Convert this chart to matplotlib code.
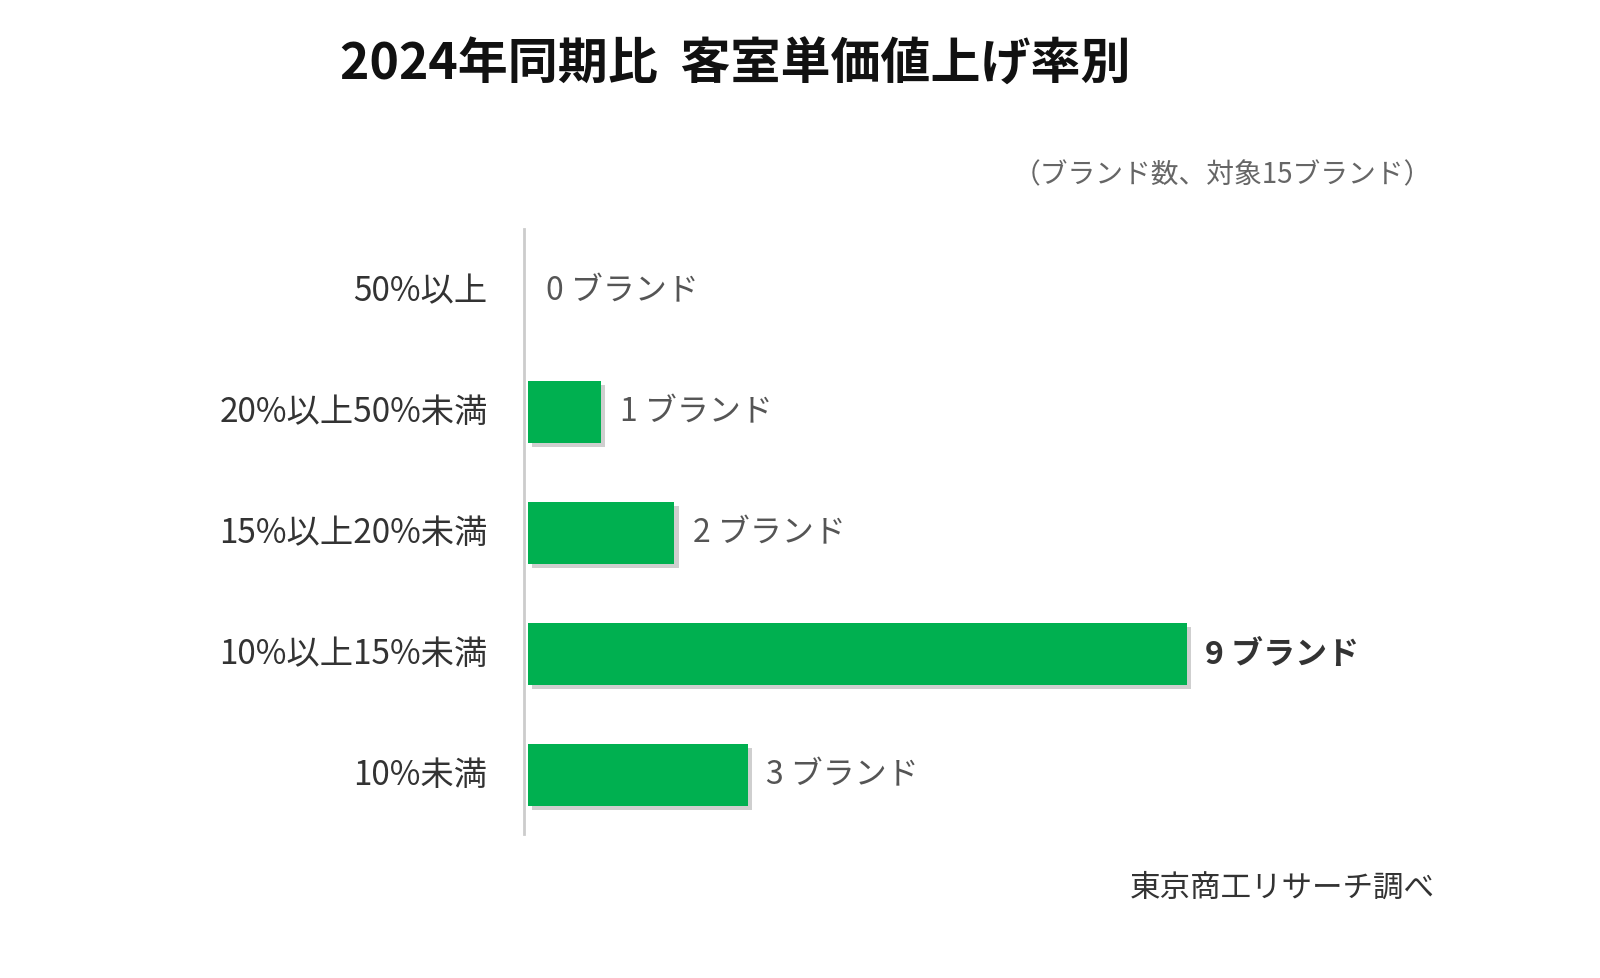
import matplotlib
matplotlib.use("Agg")
import matplotlib.pyplot as plt
from matplotlib import patheffects as pe

plt.rcParams["font.family"] = "Noto Sans CJK JP"

categories = ["10%未満", "10%以上15%未満", "15%以上20%未満", "20%以上50%未満", "50%以上"]
values = [3, 9, 2, 1, 0]

W, H = 1600, 979
fig = plt.figure(figsize=(W/100, H/100), dpi=100)
ax = fig.add_axes([528/W, 1-835/H, 922/W, 605/H])
ax.set_xlim(0, 922/73.2)
ax.set_ylim(-0.49, 4.51)
ypos = list(range(len(categories)))
bars = ax.barh(ypos, values, height=0.51, color="#00B050", zorder=3)
for b in bars:
    b.set_path_effects([pe.SimplePatchShadow(offset=(3, -3), shadow_rgbFace="#777777", alpha=0.35), pe.Normal()])
for y, v, c in zip(ypos, values, categories):
    bold = v == max(values)
    ax.text(v + 0.25, y, f"{v} ブランド", va="center", ha="left", fontsize=23,
            color="#333333" if bold else "#555555", fontweight="bold" if bold else "normal")
    ax.text(-0.55, y, c, va="center", ha="right", fontsize=24, color="#333333")
for s in ax.spines.values():
    s.set_visible(False)
ax.set_xticks([]); ax.set_yticks([])
fig.add_artist(plt.Line2D([524/W, 524/W], [1-230/H, 1-835/H], color="#cccccc", lw=2))
fig.text(735/W, 1-65/H, "2024年同期比  客室単価値上げ率別", ha="center", va="center",
         fontsize=36, fontweight="bold", color="#111111")
fig.text(1432/W, 1-175/H, "（ブランド数、対象15ブランド）", ha="right", va="center",
         fontsize=20, color="#666666")
fig.text(1435/W, 1-888/H, "東京商工リサーチ調べ", ha="right", va="center",
         fontsize=22, color="#333333")
fig.savefig("out.png", dpi=100, facecolor="white")
